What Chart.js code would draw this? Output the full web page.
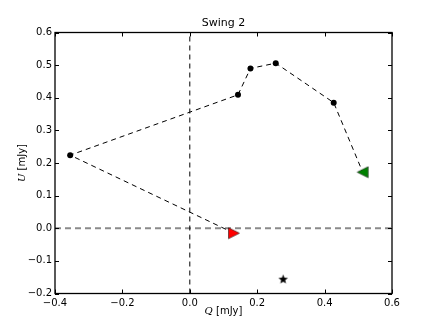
<!DOCTYPE html>
<html>
<head>
<meta charset="utf-8">
<script src="https://cdn.jsdelivr.net/npm/chart.js@4/dist/chart.umd.min.js"></script>
<style>
html,body{margin:0;padding:0;background:#fff;}
canvas{display:block;}
</style>
</head>
<body>
<canvas id="c" width="436" height="327"></canvas>
<script>
// ---- data ----
const titleText = 'Swing 2';
const xAxisSymbol = 'Q';
const yAxisSymbol = 'U';
const axisUnit = ' [mJy]';
const xTickValues = [-0.4, -0.2, 0.0, 0.2, 0.4, 0.6];
const xTickLabels = ['\u22120.4', '\u22120.2', '0.0', '0.2', '0.4', '0.6'];
const yTickValues = [-0.2, -0.1, 0.0, 0.1, 0.2, 0.3, 0.4, 0.5, 0.6];
const yTickLabels = ['\u22120.2', '\u22120.1', '0.0', '0.1', '0.2', '0.3', '0.4', '0.5', '0.6'];
const pathQ = [0.131, -0.355, 0.143, 0.180, 0.255, 0.427, 0.513];
const pathU = [-0.015, 0.224, 0.409, 0.490, 0.506, 0.385, 0.172];
const starQ = [0.277];
const starU = [-0.156];
const refZeroQ = [0, 0];
const refZeroQU = [-0.2, 0.6];
const refZeroUQ = [-0.4, 0.6];
const refZeroU = [0, 0];

// ---- marker images ----
function triangleImg(dir, fill) {
  const c = document.createElement('canvas');
  c.width = 14; c.height = 13;
  const g = c.getContext('2d');
  g.beginPath();
  if (dir === 'right') { g.moveTo(1.5, 1); g.lineTo(12.5, 6.5); g.lineTo(1.5, 12); }
  else { g.moveTo(12.5, 1); g.lineTo(1.5, 6.5); g.lineTo(12.5, 12); }
  g.closePath();
  g.fillStyle = fill; g.fill();
  g.lineWidth = 0.5; g.strokeStyle = '#000'; g.stroke();
  return c;
}
function starImg() {
  const c = document.createElement('canvas');
  c.width = 11; c.height = 11;
  const g = c.getContext('2d');
  g.beginPath();
  for (let i = 0; i < 10; i++) {
    const r = i % 2 === 0 ? 5 : 2.1;
    const a = -Math.PI / 2 + i * Math.PI / 5;
    const px = 5.5 + r * Math.cos(a), py = 5.8 + r * Math.sin(a);
    if (i === 0) g.moveTo(px, py); else g.lineTo(px, py);
  }
  g.closePath();
  g.fillStyle = '#000'; g.fill();
  return c;
}

const pts = (qs, us) => qs.map((q, i) => ({x: q, y: us[i]}));
const n = pathQ.length;

const datasets = [
  {data: [{x: pathQ[0], y: pathU[0]}], pointStyle: triangleImg('right', '#ff0000'), pointRadius: 7, showLine: false},
  {data: [{x: pathQ[n-1], y: pathU[n-1]}], pointStyle: triangleImg('left', '#008000'), pointRadius: 7, showLine: false},
  {data: pts(starQ, starU), pointStyle: starImg(), pointRadius: 5, showLine: false},
  {data: pts(pathQ.slice(1, n-1), pathU.slice(1, n-1)), pointStyle: 'circle', pointRadius: 3,
   backgroundColor: '#000', borderColor: '#000', borderWidth: 0, showLine: false},
  {data: pts(pathQ, pathU), showLine: true, pointRadius: 0, borderColor: '#000', borderWidth: 1, borderDash: [5, 4]},
  {data: pts(refZeroQ, refZeroQU), showLine: true, pointRadius: 0, borderColor: '#000', borderWidth: 1, borderDash: [5, 4]},
  {data: pts(refZeroUQ, refZeroU), showLine: true, pointRadius: 0, borderColor: '#8a8a8a', borderWidth: 2, borderDash: [6, 4]}
];

const FONT = '"DejaVu Sans", sans-serif';

const decor = {
  id: 'decor',
  afterDraw(chart) {
    const {ctx, chartArea: a, scales} = chart;
    ctx.save();
    // inward ticks
    ctx.strokeStyle = '#000'; ctx.lineWidth = 1;
    const L = 4;
    xTickValues.forEach(v => {
      const px = Math.round(scales.x.getPixelForValue(v)) + 0.5;
      ctx.beginPath();
      ctx.moveTo(px, a.bottom); ctx.lineTo(px, a.bottom - L);
      ctx.moveTo(px, a.top); ctx.lineTo(px, a.top + L);
      ctx.stroke();
    });
    yTickValues.forEach(v => {
      const py = Math.round(scales.y.getPixelForValue(v)) + 0.5;
      ctx.beginPath();
      ctx.moveTo(a.left, py); ctx.lineTo(a.left + L, py);
      ctx.moveTo(a.right, py); ctx.lineTo(a.right - L, py);
      ctx.stroke();
    });
    // frame
    ctx.lineWidth = 1.3;
    ctx.strokeRect(a.left, a.top, a.right - a.left, a.bottom - a.top);
    // title
    ctx.fillStyle = '#000';
    ctx.textAlign = 'center'; ctx.textBaseline = 'alphabetic';
    ctx.font = '11px ' + FONT;
    ctx.fillText(titleText, (a.left + a.right) / 2, 26);
    // axis labels with italic symbol
    const drawLabel = (sym, cx, cy) => {
      ctx.font = 'italic 10px "DejaVu Serif", serif';
      const w1 = ctx.measureText(sym).width;
      ctx.font = '10px ' + FONT;
      const w2 = ctx.measureText(axisUnit).width;
      const x0 = cx - (w1 + w2) / 2;
      ctx.textAlign = 'left';
      ctx.font = 'italic 10px "DejaVu Serif", serif';
      ctx.fillText(sym, x0, cy);
      ctx.font = '10px ' + FONT;
      ctx.fillText(axisUnit, x0 + w1, cy);
    };
    drawLabel(xAxisSymbol, (a.left + a.right) / 2, 314);
    ctx.translate(25, (a.top + a.bottom) / 2);
    ctx.rotate(-Math.PI / 2);
    drawLabel(yAxisSymbol, 0, 0);
    ctx.restore();
  }
};

new Chart(document.getElementById('c'), {
  type: 'scatter',
  data: {datasets},
  options: {
    responsive: false,
    animation: false,
    layout: {padding: {top: 32.5, right: 44, left: 0, bottom: 0}},
    plugins: {legend: {display: false}, tooltip: {enabled: false}, title: {display: false}},
    scales: {
      x: {
        type: 'linear', min: -0.4, max: 0.6,
        afterBuildTicks: s => { s.ticks = xTickValues.map(v => ({value: v})); },
        afterFit: s => { s.height = 33.5; },
        grid: {display: false, drawTicks: false},
        border: {display: false},
        ticks: {autoSkip: false, maxRotation: 0, padding: 4, color: '#000', font: {family: FONT, size: 10},
                callback: (v, i) => xTickLabels[i]}
      },
      y: {
        type: 'linear', min: -0.2, max: 0.6,
        afterBuildTicks: s => { s.ticks = yTickValues.map(v => ({value: v})); },
        afterFit: s => { s.width = 55; },
        grid: {display: false, drawTicks: false},
        border: {display: false},
        ticks: {autoSkip: false, padding: 3, color: '#000', font: {family: FONT, size: 10},
                callback: (v, i) => yTickLabels[i]}
      }
    }
  },
  plugins: [decor]
});
</script>
</body>
</html>
